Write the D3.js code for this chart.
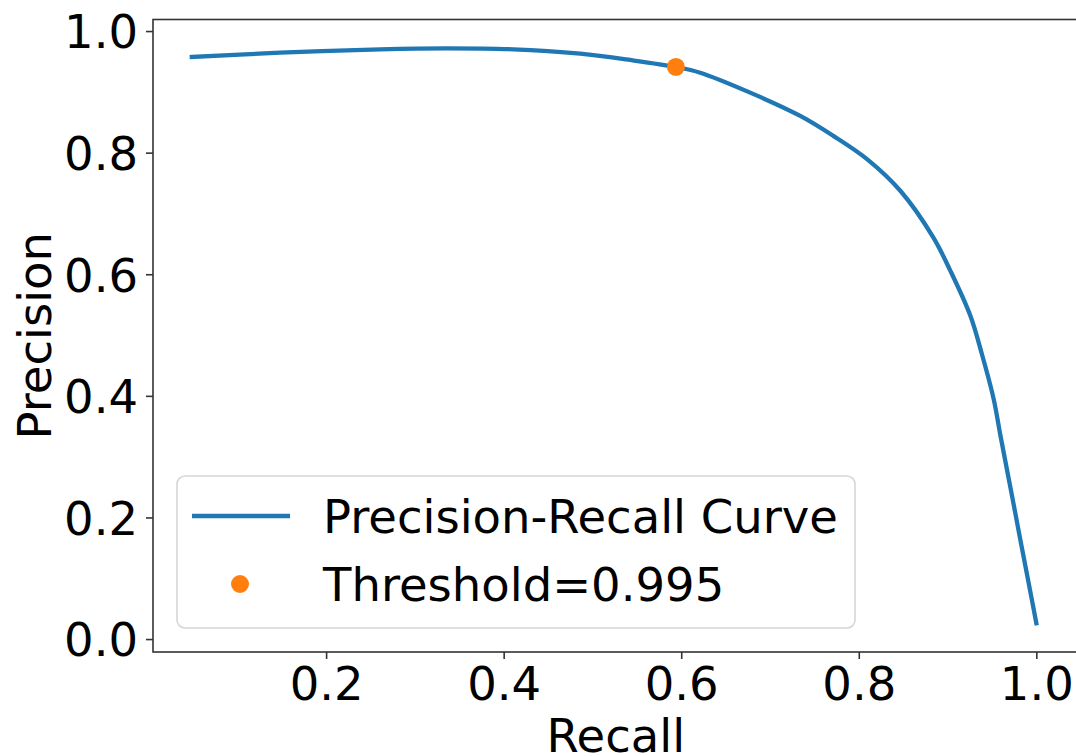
<!DOCTYPE html>
<html>
<head>
<meta charset="utf-8">
<script src="https://cdn.jsdelivr.net/npm/d3@7"></script>
<style>
  html, body { margin: 0; padding: 0; background: #fff; }
  svg { display: block; }
  text { font-family: "DejaVu Sans", sans-serif; fill: #000; }
</style>
</head>
<body>
<svg id="chart" width="1076" height="756"></svg>
<script>
// Precision-recall pairs along the curve
const recall = [0.0487, 0.1482, 0.2608, 0.3363, 0.4107, 0.4862, 0.5425, 0.594, 0.6214, 0.6777,
                0.7341, 0.7713, 0.8096, 0.8468, 0.8839, 0.9031, 0.9256, 0.9388, 0.9519, 0.9594,
                0.9670, 0.9745, 0.9820, 0.9910, 1.0];
const precision = [0.9573, 0.9644, 0.9700, 0.9716, 0.9700, 0.9627, 0.9524, 0.9409, 0.9315, 0.8987,
                   0.8604, 0.8276, 0.7890, 0.7373, 0.6606, 0.6059, 0.5320, 0.4680, 0.3950, 0.3360,
                   0.2780, 0.2210, 0.1630, 0.0950, 0.0260];

// Operating point at the chosen threshold
const thresholdLabel = "Threshold=0.995";
const thresholdRecall = [0.594];
const thresholdPrecision = [0.9409];

const xTicks = [0.2, 0.4, 0.6, 0.8, 1.0];
const yTicks = [0.0, 0.2, 0.4, 0.6, 0.8, 1.0];
const seriesLabels = ["Precision-Recall Curve", thresholdLabel];

const svg = d3.select("#chart");
const FS = 46.5;
const BLUE = "#1f77b4", ORANGE = "#ff7f0e";

// Axis limits padded around the data
const x = d3.scaleLinear().domain([0.005, 1.0475]).range([153, 1078.5]);
const y = d3.scaleLinear().domain([-0.0213, 1.019]).range([652, 19.5]);

const [x0, x1] = x.range();
const [y0, y1] = y.range();

// Curve
const pts = recall.map((r, i) => [r, precision[i]]);
const line = d3.line().x(d => x(d[0])).y(d => y(d[1])).curve(d3.curveCatmullRom.alpha(0.5));

svg.append("path")
  .datum(pts)
  .attr("d", line)
  .attr("fill", "none")
  .attr("stroke", BLUE)
  .attr("stroke-width", 4.3)
  .attr("stroke-linejoin", "round")
  .attr("stroke-linecap", "square");

svg.selectAll("circle.thr")
  .data(thresholdRecall.map((r, i) => [r, thresholdPrecision[i]]))
  .join("circle")
  .attr("class", "thr")
  .attr("cx", d => x(d[0]))
  .attr("cy", d => y(d[1]))
  .attr("r", 9)
  .attr("fill", ORANGE);

// Axes
const xAxis = d3.axisBottom(x).tickValues(xTicks).tickFormat(d3.format(".1f"))
  .tickSize(7).tickPadding(8);
const yAxis = d3.axisLeft(y).tickValues(yTicks).tickFormat(d3.format(".1f"))
  .tickSize(7).tickPadding(8);

const gx = svg.append("g").attr("transform", `translate(0,${y0})`).call(xAxis);
const gy = svg.append("g").attr("transform", `translate(${x0},0)`).call(yAxis);
[gx, gy].forEach(g => {
  g.select(".domain").remove();
  g.selectAll(".tick line").attr("stroke", "#333").attr("stroke-width", 1.6);
  g.selectAll(".tick text")
    .attr("font-family", "DejaVu Sans, sans-serif")
    .attr("font-size", FS)
    .attr("fill", "#000");
});
gx.selectAll(".tick text").attr("dy", "0.71em");
gy.selectAll(".tick text").attr("dy", "0.36em");

// Frame
svg.append("rect")
  .attr("x", x0).attr("y", y1)
  .attr("width", x1 - x0).attr("height", y0 - y1)
  .attr("fill", "none")
  .attr("stroke", "#333")
  .attr("stroke-width", 1.6);

// Axis titles
svg.append("text")
  .attr("x", (x0 + x1) / 2).attr("y", 752)
  .attr("text-anchor", "middle")
  .attr("font-size", FS)
  .text("Recall");

svg.append("text")
  .attr("transform", `translate(51,${(y0 + y1) / 2}) rotate(-90)`)
  .attr("text-anchor", "middle")
  .attr("font-size", FS)
  .text("Precision");

// Legend
const lg = svg.append("g");
lg.append("rect")
  .attr("x", 177).attr("y", 476)
  .attr("width", 678).attr("height", 152)
  .attr("rx", 8)
  .attr("fill", "#fff")
  .attr("fill-opacity", 0.8)
  .attr("stroke", "#d6d6d6")
  .attr("stroke-width", 1.6);

lg.append("line")
  .attr("x1", 192).attr("x2", 290)
  .attr("y1", 516).attr("y2", 516)
  .attr("stroke", BLUE)
  .attr("stroke-width", 4.3);

lg.append("circle")
  .attr("cx", 240).attr("cy", 584)
  .attr("r", 9)
  .attr("fill", ORANGE);

lg.selectAll("text.lab")
  .data(seriesLabels)
  .join("text")
  .attr("class", "lab")
  .attr("x", 323)
  .attr("y", (d, i) => 516 + i * 68)
  .attr("dy", "0.36em")
  .attr("font-size", FS)
  .text(d => d);
</script>
</body>
</html>
